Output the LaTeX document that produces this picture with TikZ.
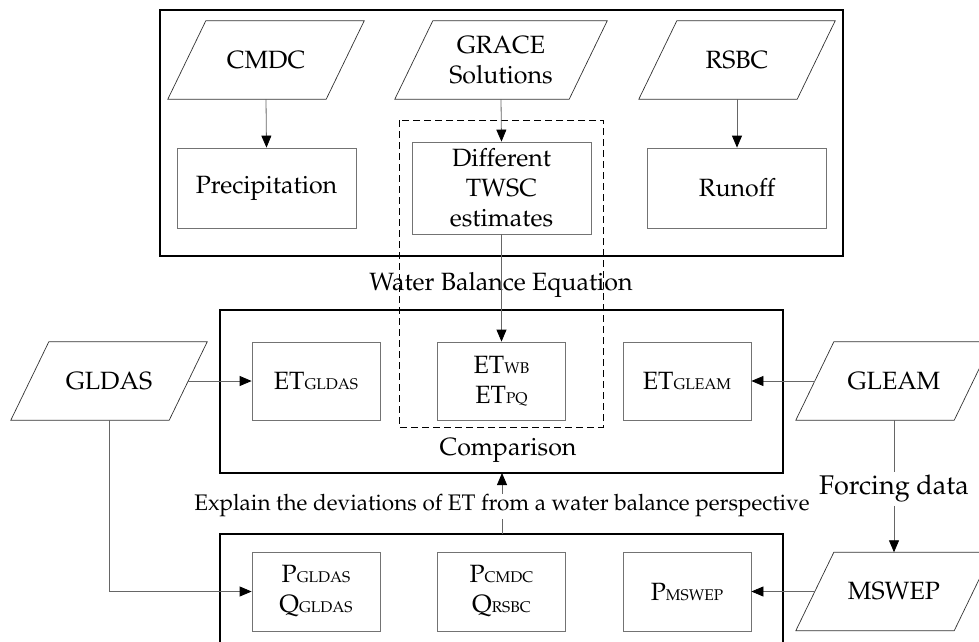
\documentclass[tikz,border=0pt]{standalone}
\usepackage[T1]{fontenc}
\usepackage{mathpazo}
\usetikzlibrary{arrows.meta}
\newcommand{\smc}[1]{{\fontsize{15.5}{15.5}\selectfont #1}}
\tikzset{
  txt/.style={font=\fontsize{25}{30}\selectfont, align=center, inner sep=0pt},
  para/.style={txt, minimum width=158pt, minimum height=78pt},
  ibox/.style={txt, draw=black!55, line width=0.8pt},
  obox/.style={draw=black, line width=1.6pt},
  pline/.style={draw=black!80, line width=0.7pt},
  conn/.style={draw=black!60, line width=0.8pt, -{Triangle[length=12pt,width=10pt,color=black]}},
  plain/.style={draw=black!60, line width=0.8pt},
}
\begin{document}
\begin{tikzpicture}[x=1pt,y=-1pt]
\clip (0,0) rectangle (979,641);
\fill[white] (0,0) rectangle (979,641);

% outer boxes
\draw[obox] (160,10) rectangle (843,256);
\draw[obox] (220,310) rectangle (783,473);
\draw[obox] (220,534) rectangle (783,700);

% dashed box
\draw[black, line width=1pt, dash pattern=on 7pt off 4pt] (399,120) rectangle (603,427);

% parallelogram nodes
\node[para] (cmdc) at (266,60) {CMDC};
\node[para, minimum width=174pt] (grace) at (501,60) {GRACE\\Solutions};
\node[para] (rsbc) at (737,60) {RSBC};
\node[para] (gldas) at (109,381) {GLDAS};
\node[para] (gleam) at (894,381) {GLEAM};
\node[para] (mswep) at (894,591.5) {MSWEP};
\foreach \n in {cmdc,grace,rsbc,gldas,gleam,mswep}
  \draw[pline] ([xshift=19pt]\n.north west) -- ([xshift=19pt]\n.north east)
     -- ([xshift=-19pt]\n.south east) -- ([xshift=-19pt]\n.south west) -- cycle;

% inner boxes, top
\node[ibox, minimum width=179pt, minimum height=80pt] (prec) at (266.5,188) {Precipitation};
\node[ibox, minimum width=179pt, minimum height=92pt] (twsc) at (501.5,188) {Different\\TWSC\\estimates};
\node[ibox, minimum width=179pt, minimum height=80pt] (runoff) at (737,188) {Runoff};

% inner boxes, middle
\node[ibox, minimum width=128pt, minimum height=78pt] (etgldas) at (316,381) {ET\smc{GLDAS}};
\node[ibox, minimum width=128pt, minimum height=78pt] (etwb) at (501.5,381) {ET\smc{WB}\\ET\smc{PQ}};
\node[ibox, minimum width=128pt, minimum height=78pt] (etgleam) at (687,381) {ET\smc{GLEAM}};

% inner boxes, bottom
\node[ibox, minimum width=128pt, minimum height=79pt] (pgldas) at (316,591.5) {P\smc{GLDAS}\\Q\smc{GLDAS}};
\node[ibox, minimum width=128pt, minimum height=79pt] (pcmdc) at (501.5,591.5) {P\smc{CMDC}\\Q\smc{RSBC}};
\node[ibox, minimum width=128pt, minimum height=79pt] (pmswep) at (687,591.5) {P\smc{MSWEP}};

% labels
\node[txt] (wbe) at (501,285) {Water Balance Equation};
\node[txt] (comp) at (508,450) {Comparison};
\node[txt, font=\fontsize{22.5}{27}\selectfont, inner sep=1pt] (expl) at (502,506) {Explain the deviations of ET from a water balance perspective};
\node[txt, font=\fontsize{27}{32}\selectfont, inner sep=3pt] (forc) at (894,489) {Forcing data};

% coordinates
\coordinate (bottomtop) at (502,534);
\coordinate (midbot) at (502,473);
\coordinate (gldascorner) at (109,591.5);

% connectors
\draw[conn] (cmdc.south) -- (prec.north);
\draw[conn] (grace.south) -- (twsc.north);
\draw[conn] (rsbc.south) -- (runoff.north);
\draw[conn] (twsc.south) -- (etwb.north);
\draw[conn] (gldas.east) -- (etgldas.west);
\draw[conn] (gleam.west) -- (etgleam.east);
\draw[conn] (mswep.west) -- (pmswep.east);
\draw[plain] (gleam.south) -- (forc.north);
\draw[conn] (forc.south) -- (mswep.north);
\draw[conn] (gldas.south) -- (gldascorner) -- (pgldas.west);
\draw[plain] (bottomtop) -- (expl.south -| bottomtop);
\draw[conn] (expl.north -| midbot) -- (midbot);
\end{tikzpicture}
\end{document}
